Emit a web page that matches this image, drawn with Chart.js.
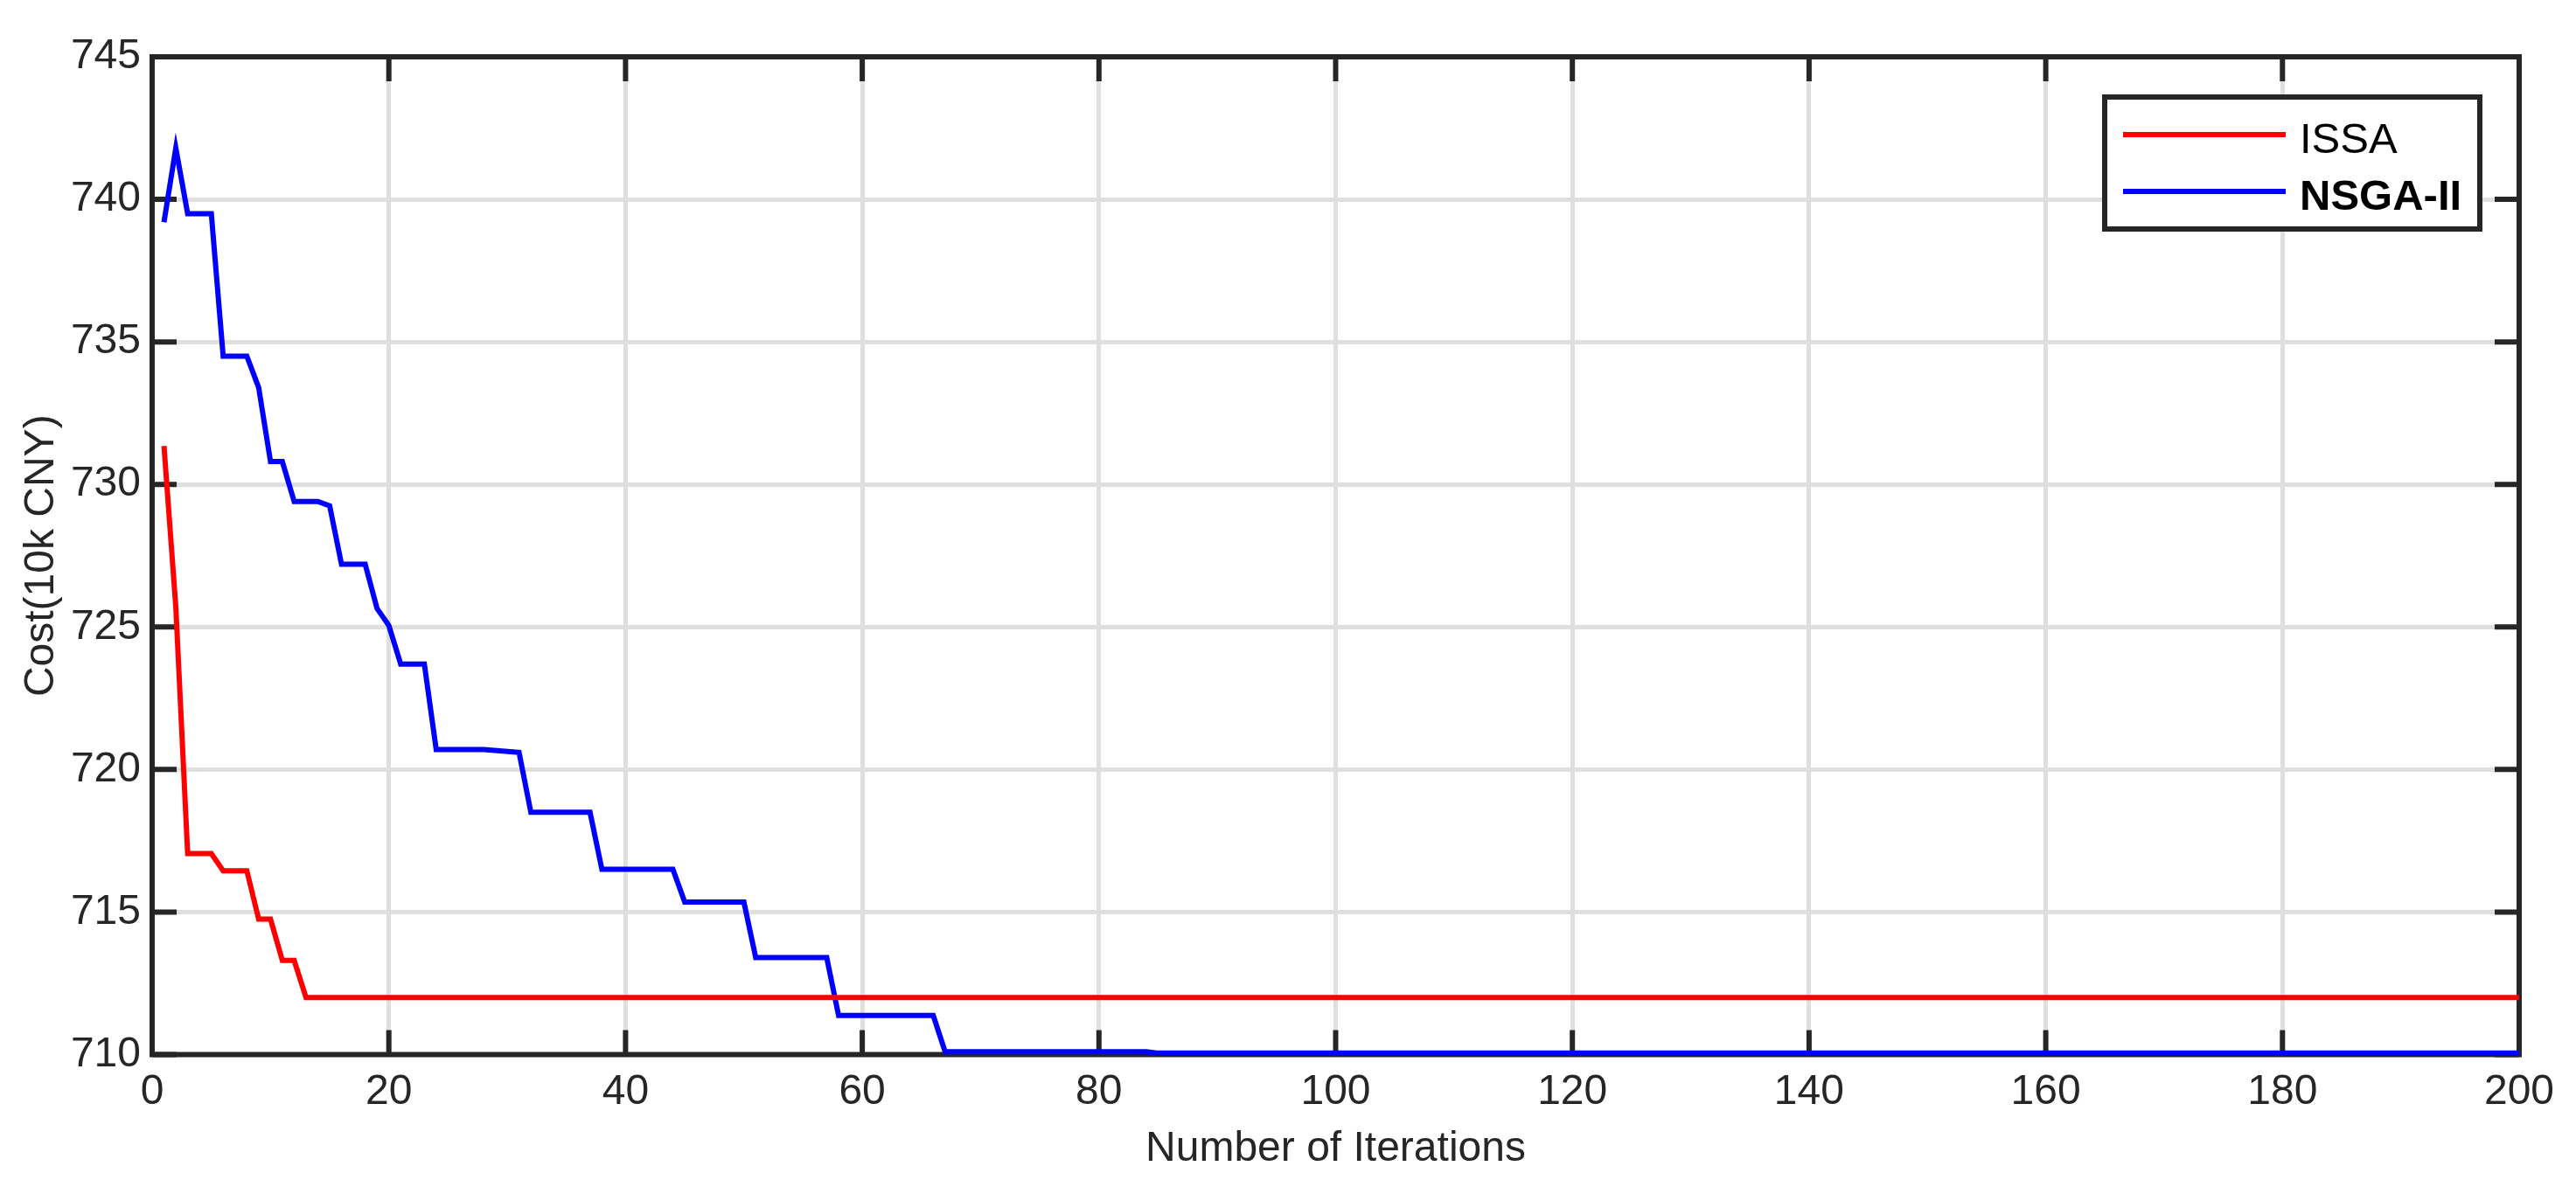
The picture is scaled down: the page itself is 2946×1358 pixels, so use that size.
<!DOCTYPE html>
<html>
<head>
<meta charset="utf-8">
<script src="https://cdn.jsdelivr.net/npm/chart.js@4.4.1/dist/chart.umd.min.js"></script>
<style>
  html, body { margin: 0; padding: 0; background: #fff; }
  #wrap { width: 2946px; height: 1358px; }
</style>
</head>
<body>
<div id="wrap"><canvas id="costChart" width="2946" height="1358"></canvas></div>
<script>
// pontos de quebra das curvas
const issaIter = [1, 2, 3, 5, 6, 8, 9, 10, 11, 12, 13, 200];
const issaCost = [731.35, 725.7, 717.05, 717.05, 716.45, 716.45, 714.75, 714.75, 713.3, 713.3, 712.0, 712.0];

const nsgaIter = [1, 2, 3, 5, 6, 8, 9, 10, 11, 12, 14, 15, 16, 18, 19, 20, 21, 23, 24, 28,
                  31, 32, 37, 38, 44, 45, 50, 51, 57, 58, 66, 67, 84, 85, 200];
const nsgaCost = [739.2, 741.8, 739.5, 739.5, 734.5, 734.5, 733.4, 730.8, 730.8, 729.4,
                  729.4, 729.25, 727.2, 727.2, 725.65, 725.05, 723.7, 723.7, 720.7, 720.7,
                  720.6, 718.5, 718.5, 716.5, 716.5, 715.35, 715.35, 713.4, 713.4, 711.37,
                  711.37, 710.1, 710.1, 710.05, 710.05];

const xTicks = [0, 20, 40, 60, 80, 100, 120, 140, 160, 180, 200];
const yTicks = [710, 715, 720, 725, 730, 735, 740, 745];
const seriesNames = ['ISSA', 'NSGA-II'];
const seriesColors = ['#ff0000', '#0000ff'];

const axisColor = '#262626';
const fontFamily = '"Liberation Sans", Arial, Helvetica, sans-serif';

function toPoints(xs, ys) {
    return xs.map((v, i) => ({ x: v, y: ys[i] }));
}

// caixa do eixo + ticks para dentro (estilo MATLAB)
const framePlugin = {
    id: 'frame',
    beforeDatasetsDraw(chart) {
        const { ctx, chartArea: a, scales } = chart;
        const len = 28;
        ctx.save();
        ctx.strokeStyle = axisColor;
        ctx.lineWidth = 6;
        ctx.beginPath();
        xTicks.forEach(v => {
            const px = scales.x.getPixelForValue(v);
            ctx.moveTo(px, a.bottom); ctx.lineTo(px, a.bottom - len);
            ctx.moveTo(px, a.top); ctx.lineTo(px, a.top + len);
        });
        yTicks.forEach(v => {
            const py = scales.y.getPixelForValue(v);
            ctx.moveTo(a.left, py); ctx.lineTo(a.left + len, py);
            ctx.moveTo(a.right, py); ctx.lineTo(a.right - len, py);
        });
        ctx.stroke();
        ctx.strokeRect(a.left, a.top, a.right - a.left, a.bottom - a.top);
        ctx.restore();
    }
};

// legenda dentro do gráfico, canto superior direito
const legendBoxPlugin = {
    id: 'legendBox',
    afterDatasetsDraw(chart) {
        const { ctx, chartArea: a } = chart;
        const w = 429, h = 151;
        const bx = a.right - 45 - w;
        const by = a.top + 46;
        ctx.save();
        ctx.fillStyle = '#fff';
        ctx.fillRect(bx, by, w, h);
        ctx.strokeStyle = axisColor;
        ctx.lineWidth = 6;
        ctx.strokeRect(bx, by, w, h);
        const rows = [by + 43, by + 108];
        const baselines = [by + 64, by + 128.5];
        seriesNames.forEach((name, i) => {
            ctx.strokeStyle = seriesColors[i];
            ctx.lineWidth = 6;
            ctx.beginPath();
            ctx.moveTo(bx + 21, rows[i]);
            ctx.lineTo(bx + 207, rows[i]);
            ctx.stroke();
            ctx.fillStyle = '#000';
            ctx.font = (i === 1 ? 'bold ' : '') + '49px ' + fontFamily;
            ctx.textBaseline = 'alphabetic';
            ctx.fillText(name, bx + 223, baselines[i]);
        });
        ctx.restore();
    }
};

const chart = new Chart(document.getElementById('costChart'), {
    type: 'line',
    data: {
        datasets: [
            {
                label: seriesNames[0],
                data: toPoints(issaIter, issaCost),
                borderColor: seriesColors[0],
                borderWidth: 6,
                pointRadius: 0,
                tension: 0,
                clip: false
            },
            {
                label: seriesNames[1],
                data: toPoints(nsgaIter, nsgaCost),
                borderColor: seriesColors[1],
                borderWidth: 6,
                pointRadius: 0,
                tension: 0,
                clip: false
            }
        ]
    },
    options: {
        responsive: false,
        animation: false,
        devicePixelRatio: 1,
        layout: { padding: { top: 65, right: 65, left: 0, bottom: 0 } },
        plugins: {
            legend: { display: false },
            tooltip: { enabled: false }
        },
        scales: {
            x: {
                type: 'linear',
                min: 0,
                max: 200,
                afterBuildTicks: s => { s.ticks = xTicks.map(v => ({ value: v })); },
                afterFit: s => { s.height = 151.5; },
                grid: { color: '#dfdfdf', lineWidth: 5, drawTicks: false },
                border: { display: false },
                ticks: {
                    color: axisColor,
                    padding: 14,
                    maxRotation: 0,
                    font: { family: fontFamily, size: 48 }
                },
                title: {
                    display: true,
                    text: 'Number of Iterations',
                    color: axisColor,
                    padding: { top: 0, bottom: 14 },
                    font: { family: fontFamily, size: 48 }
                }
            },
            y: {
                min: 710,
                max: 745,
                afterBuildTicks: s => { s.ticks = yTicks.map(v => ({ value: v })); },
                afterFit: s => { s.width = 174; },
                grid: { color: '#dfdfdf', lineWidth: 5, drawTicks: false },
                border: { display: false },
                ticks: {
                    color: axisColor,
                    padding: 13,
                    font: { family: fontFamily, size: 48 }
                },
                title: {
                    display: true,
                    text: 'Cost(10k CNY)',
                    color: axisColor,
                    padding: { top: 19, bottom: 0 },
                    font: { family: fontFamily, size: 48 }
                }
            }
        }
    },
    plugins: [framePlugin, legendBoxPlugin]
});
</script>
</body>
</html>
